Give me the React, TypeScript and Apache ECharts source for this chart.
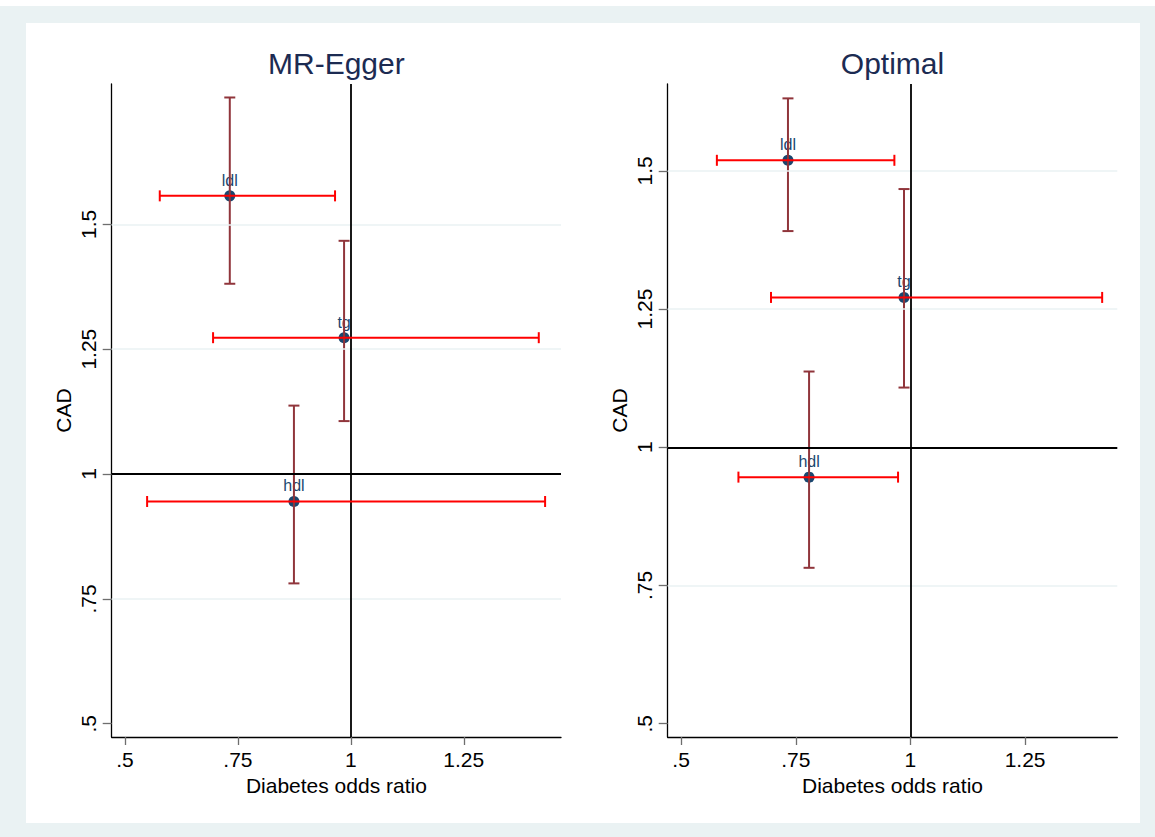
import React, { useEffect, useRef } from 'react';
import * as echarts from 'echarts';

// Instruments (exposures) shown in both panels
const studies = ['ldl', 'tg', 'hdl'];

// MR-Egger panel: diabetes odds ratio (x) and CAD odds ratio (y) with 95% CIs
const eggerOr = [0.732, 0.985, 0.874];
const eggerOrLo = [0.577, 0.695, 0.549];
const eggerOrHi = [0.965, 1.416, 1.43];
const eggerCad = [1.557, 1.273, 0.945];
const eggerCadLo = [1.381, 1.106, 0.781];
const eggerCadHi = [1.754, 1.467, 1.137];

// Optimal panel
const optimalOr = [0.733, 0.986, 0.779];
const optimalOrLo = [0.578, 0.696, 0.625];
const optimalOrHi = [0.965, 1.418, 0.973];
const optimalCad = [1.519, 1.271, 0.946];
const optimalCadLo = [1.391, 1.108, 0.782];
const optimalCadHi = [1.631, 1.467, 1.137];

// Axis ticks and reference values
const xTicks = [0.5, 0.75, 1, 1.25];
const yTicks = [0.5, 0.75, 1, 1.25, 1.5];
const gridValues = [0.75, 1.25, 1.5];
const nullValue = 1;
const panelTitles = ['MR-Egger', 'Optimal'];
const xTitle = 'Diabetes odds ratio';
const yTitle = 'CAD';

const NAVY = '#1a476f';
const MAROON = '#90353b';
const RED = '#ff0000';
const GRID_COLOR = '#eaf2f3';
const FONT = '"Liberation Sans", Arial, Helvetica, sans-serif';
const CAP = 5.5;

// Stata-style number labels: ".5", ".75", "1", "1.25"
const fmt = (v: number) => {
  const s = String(Math.round(v * 1000) / 1000);
  return s.startsWith('0.') ? s.slice(1) : s;
};

type Panel = {
  or: number[]; orLo: number[]; orHi: number[];
  cad: number[]; cadLo: number[]; cadHi: number[];
};

const panels: Panel[] = [
  { or: eggerOr, orLo: eggerOrLo, orHi: eggerOrHi, cad: eggerCad, cadLo: eggerCadLo, cadHi: eggerCadHi },
  { or: optimalOr, orLo: optimalOrLo, orHi: optimalOrHi, cad: optimalCad, cadLo: optimalCadLo, cadHi: optimalCadHi },
];

// Capped error bar (rcap) drawn through the axes' own scales
const capRenderer = (color: string, vertical: boolean) => (params: any, api: any) => {
  const c = api.value(0);
  const lo = api.value(1);
  const hi = api.value(2);
  const a = vertical ? api.coord([c, lo]) : api.coord([lo, c]);
  const b = vertical ? api.coord([c, hi]) : api.coord([hi, c]);
  const style = { stroke: color, lineWidth: 2, fill: null };
  const cap = (p: number[]) =>
    vertical
      ? { type: 'line', shape: { x1: p[0] - CAP, y1: p[1], x2: p[0] + CAP, y2: p[1] }, style }
      : { type: 'line', shape: { x1: p[0], y1: p[1] - CAP, x2: p[0], y2: p[1] + CAP }, style };
  return {
    type: 'group',
    children: [
      { type: 'line', shape: { x1: a[0], y1: a[1], x2: b[0], y2: b[1] }, style },
      cap(a),
      cap(b),
    ],
  };
};

const grids = [
  { left: 111.7, top: 84, width: 449.3, height: 653 },
  { left: 667.7, top: 84, width: 449.6, height: 653 },
];
const xRanges = [[0.4706, 1.4652], [0.4708, 1.451]];
const yRanges = [[0.4734, 1.781], [0.476, 1.657]];

function buildOption() {
  const xAxis = grids.map((_, i) => ({
    type: 'value',
    gridIndex: i,
    min: xRanges[i][0],
    max: xRanges[i][1],
    name: xTitle,
    nameLocation: 'middle',
    nameGap: 38,
    nameTextStyle: { fontSize: 21, color: '#000', fontFamily: FONT },
    axisLine: { show: true, onZero: false, lineStyle: { color: '#000', width: 1.3 } },
    axisTick: { show: true, length: 8, customValues: xTicks, lineStyle: { color: '#6e6e6e', width: 1.3 } },
    axisLabel: { show: true, customValues: xTicks, formatter: fmt, fontSize: 21, color: '#000', fontFamily: FONT, margin: 12 },
    splitLine: { show: false },
  }));
  const yAxis = grids.map((_, i) => ({
    type: 'value',
    gridIndex: i,
    min: yRanges[i][0],
    max: yRanges[i][1],
    name: yTitle,
    nameLocation: 'middle',
    nameGap: 38,
    nameTextStyle: { fontSize: 21, color: '#000', fontFamily: FONT },
    axisLine: { show: true, onZero: false, lineStyle: { color: '#000', width: 1.3 } },
    axisTick: { show: true, length: 9, customValues: yTicks, lineStyle: { color: '#6e6e6e', width: 1.3 } },
    axisLabel: { show: true, customValues: yTicks, formatter: fmt, rotate: 90, fontSize: 21, color: '#000', fontFamily: FONT, margin: 13 },
    splitLine: { show: false },
  }));

  const series: any[] = [];
  panels.forEach((p, i) => {
    // grid lines and reference lines at OR = 1
    series.push({
      type: 'line',
      xAxisIndex: i,
      yAxisIndex: i,
      data: [],
      z: 1,
      silent: true,
      markLine: {
        silent: true,
        symbol: ['none', 'none'],
        label: { show: false },
        emphasis: { disabled: true },
        data: [
          ...gridValues.map((v) => ({ yAxis: v, lineStyle: { color: GRID_COLOR, width: 1.6, type: 'solid' } })),
          { yAxis: nullValue, lineStyle: { color: '#000', width: 1.8, type: 'solid' } },
          { xAxis: nullValue, lineStyle: { color: '#000', width: 1.8, type: 'solid' } },
        ],
      },
    });
    series.push({
      type: 'scatter',
      xAxisIndex: i,
      yAxisIndex: i,
      z: 3,
      symbol: 'circle',
      symbolSize: 11,
      itemStyle: { color: NAVY, opacity: 1 },
      label: {
        show: true,
        position: 'top',
        distance: 2,
        formatter: '{b}',
        color: NAVY,
        fontSize: 16,
        fontFamily: FONT,
      },
      data: studies.map((s, k) => ({ name: s, value: [p.or[k], p.cad[k]] })),
    });
    series.push({
      type: 'custom',
      xAxisIndex: i,
      yAxisIndex: i,
      z: 4,
      silent: true,
      renderItem: capRenderer(MAROON, true),
      encode: { x: 0, y: [1, 2] },
      data: studies.map((_, k) => [p.or[k], p.cadLo[k], p.cadHi[k]]),
    });
    series.push({
      type: 'custom',
      xAxisIndex: i,
      yAxisIndex: i,
      z: 5,
      silent: true,
      renderItem: capRenderer(RED, false),
      encode: { y: 0, x: [1, 2] },
      data: studies.map((_, k) => [p.cad[k], p.orLo[k], p.orHi[k]]),
    });
  });

  return {
    animation: false,
    backgroundColor: 'transparent',
    grid: grids.map((g) => ({ ...g, containLabel: false })),
    xAxis,
    yAxis,
    series,
    graphic: {
      elements: panelTitles.map((t, i) => ({
        type: 'text',
        x: grids[i].left + grids[i].width / 2,
        y: 63,
        style: {
          text: t,
          fontSize: 30,
          fontFamily: FONT,
          fill: '#1c2b52',
          align: 'center',
          verticalAlign: 'middle',
        },
      })),
    },
  };
}

export default function App() {
  const ref = useRef<HTMLDivElement>(null);
  useEffect(() => {
    if (!ref.current) return;
    const chart = echarts.init(ref.current, undefined, { renderer: 'svg' });
    chart.setOption(buildOption() as any);
    return () => chart.dispose();
  }, []);
  return (
    <div style={{ position: 'absolute', left: 0, top: 0, width: 1155, height: 837, background: '#fff', overflow: 'hidden' }}>
      <div style={{ position: 'absolute', left: 0, top: 6, width: 1155, height: 831, background: GRID_COLOR }} />
      <div style={{ position: 'absolute', left: 26, top: 23, width: 1114, height: 800, background: '#fff' }} />
      <div ref={ref} style={{ position: 'absolute', left: 0, top: 0, width: 1155, height: 837 }} />
    </div>
  );
}
